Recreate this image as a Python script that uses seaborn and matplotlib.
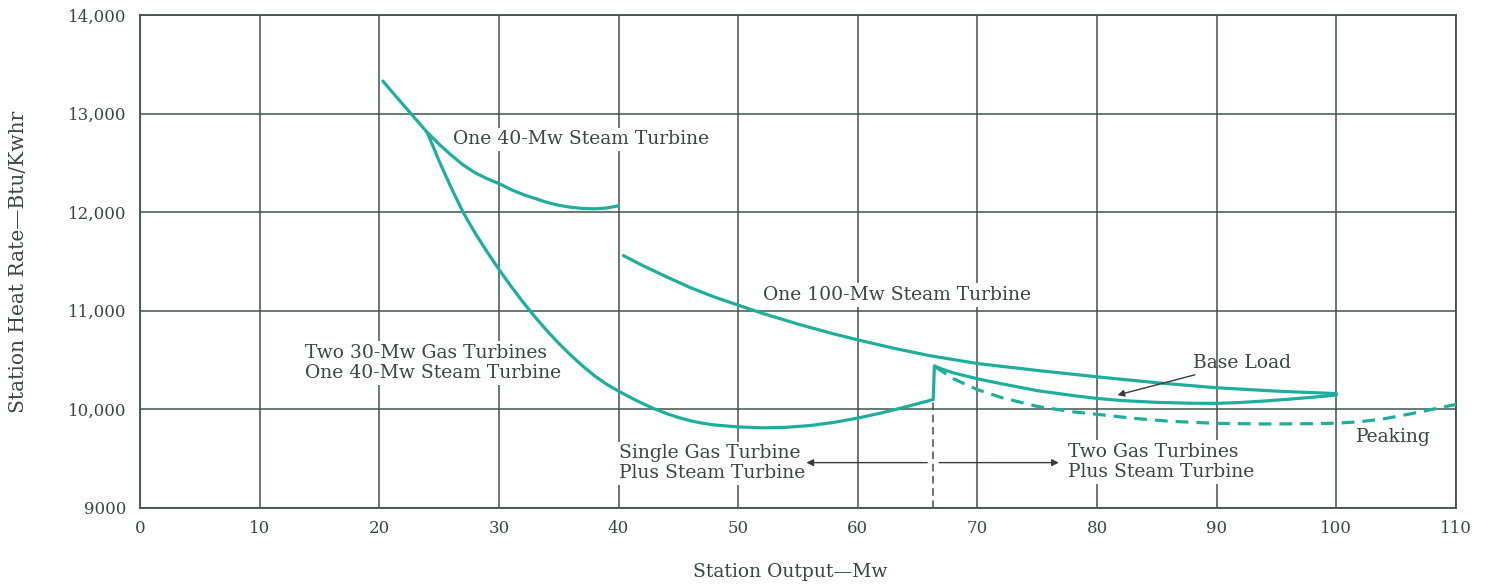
"""
Station heat rate vs. station output for combined gas/steam turbine plant
"""

import matplotlib
matplotlib.use("Agg")
import matplotlib.pyplot as plt
import seaborn as sns

# --- data (Mw, Btu/Kwhr) ---
steam40_x = [20.3, 21, 22, 23, 24, 25, 26, 27, 28, 29, 30, 31, 32, 33, 34,
             35, 36, 37, 38, 39, 40]
steam40_y = [13330, 13230, 13090, 12950, 12810, 12690, 12580, 12480, 12400,
             12340, 12290, 12230, 12180, 12140, 12100, 12070, 12050, 12038,
             12034, 12042, 12065]

gas_x = [24, 25, 26, 27, 28, 29, 30, 31, 32, 33, 34, 35, 36, 37, 38, 39, 40,
         41, 42, 43, 44, 45, 46, 47, 48, 50, 52, 54, 56, 58, 60, 62, 64,
         66.3, 66.4]
gas_y = [12810, 12520, 12250, 12000, 11790, 11600, 11420, 11250, 11090,
         10940, 10800, 10670, 10550, 10440, 10340, 10255, 10185, 10120,
         10060, 10005, 9958, 9918, 9885, 9860, 9842, 9822, 9813, 9818, 9836,
         9868, 9912, 9965, 10025, 10100, 10440]

steam100_x = [40.4, 42, 44, 46, 48, 50, 52, 55, 58, 60, 63, 66, 70, 75, 80,
              85, 90, 95, 100]
steam100_y = [11560, 11460, 11345, 11235, 11140, 11057, 10975, 10865, 10765,
              10705, 10620, 10545, 10465, 10395, 10330, 10270, 10219, 10185,
              10160]

base_x = [66.4, 67, 68, 70, 72, 75, 78, 80, 82, 85, 88, 90, 92, 94, 96, 98,
          100]
base_y = [10440, 10410, 10370, 10310, 10260, 10190, 10140, 10111, 10090,
          10071, 10062, 10061, 10070, 10085, 10103, 10123, 10145]

peak_x = [66.5, 68, 70, 72, 75, 78, 80, 83, 86, 90, 94, 98, 100, 102, 104,
          106, 108, 110]
peak_y = [10430, 10310, 10200, 10120, 10030, 9975, 9950, 9910, 9880, 9858,
          9852, 9855, 9860, 9875, 9905, 9950, 10000, 10050]

split_x = 66.3          # changeover from one to two gas turbines
split_top = 10100

x_ticks = list(range(0, 111, 10))
y_ticks = [9000, 10000, 11000, 12000, 13000, 14000]
y_labels = ["9000", "10,000", "11,000", "12,000", "13,000", "14,000"]

teal = "#1fae9e"
grid_c = "#3e5548"
text_c = "#38473f"

sns.set_theme(style="white")
plt.rcParams["font.family"] = ["DejaVu Serif"]

fig = plt.figure(figsize=(14.88, 5.88), dpi=100)
ax = fig.add_axes([0.0941, 0.1361, 0.8844, 0.8384])

line_kw = dict(estimator=None, sort=False, color=teal, linewidth=2.3,
               zorder=4, ax=ax)
sns.lineplot(x=steam40_x, y=steam40_y, **line_kw)
sns.lineplot(x=gas_x, y=gas_y, **line_kw)
sns.lineplot(x=steam100_x, y=steam100_y, **line_kw)
sns.lineplot(x=base_x, y=base_y, **line_kw)
sns.lineplot(x=peak_x, y=peak_y, linestyle=(0, (4, 2.5)), **line_kw)

# dashed changeover line
ax.plot([split_x, split_x], [9000, split_top], color="#4a4a4a", lw=1.1,
        ls=(0, (5, 3)), zorder=3)

ax.set_xlim(0, 110)
ax.set_ylim(9000, 14000)
ax.set_xticks(x_ticks)
ax.set_yticks(y_ticks)
ax.set_yticklabels(y_labels)
ax.tick_params(length=0, labelsize=12, colors=text_c)
ax.tick_params(axis="x", pad=9)
ax.tick_params(axis="y", pad=10)

ax.grid(True, color=grid_c, linewidth=1.1)
ax.set_axisbelow(True)
for s in ax.spines.values():
    s.set_color(grid_c)
    s.set_linewidth(1.3)

ax.set_xlabel("Station Output\u2014Mw", fontsize=13.5, color=text_c, va="center")
ax.xaxis.set_label_coords(0.494, -0.130)
ax.set_ylabel("Station Heat Rate\u2014Btu/Kwhr", fontsize=14.5, color=text_c,
              va="center")
ax.yaxis.set_label_coords(-0.0927, 0.5)

# labels on the curves (white box breaks the grid like the original)
box = dict(facecolor="white", edgecolor="none", pad=2)
tkw = dict(fontsize=13.5, color=text_c, va="center", ha="left", bbox=box,
           zorder=3, linespacing=1.15)
ax.text(26.2, 12739, "One 40-Mw Steam Turbine", **tkw)
ax.text(52.1, 11158, "One 100-Mw Steam Turbine", **tkw)
ax.text(13.8, 10470, "Two 30-Mw Gas Turbines\nOne 40-Mw Steam Turbine", **tkw)
ax.text(40.0, 9452, "Single Gas Turbine\nPlus Steam Turbine", **tkw)
ax.text(77.6, 9467, "Two Gas Turbines\nPlus Steam Turbine", **tkw)
ax.text(101.6, 9716, "Peaking", **tkw)

arrow = dict(arrowstyle="-|>", color="#3a3a3a", lw=1.0, mutation_scale=10,
             shrinkA=0, shrinkB=0)
ax.annotate("Base Load", xy=(81.7, 10145), xytext=(88.0, 10475),
            fontsize=13.5, color=text_c, va="center", ha="left",
            arrowprops=arrow, zorder=5)
ax.annotate("", xy=(55.7, 9460), xytext=(65.8, 9460), arrowprops=arrow)
ax.annotate("", xy=(76.8, 9460), xytext=(66.8, 9460), arrowprops=arrow)

fig.savefig("out.png", dpi=100)
